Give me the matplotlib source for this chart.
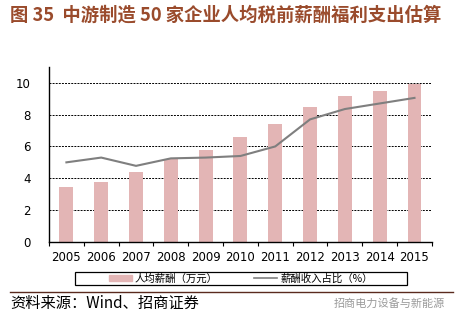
import numpy as np
import matplotlib
matplotlib.use("Agg")
import matplotlib.pyplot as plt
from matplotlib.patches import Rectangle
from matplotlib.lines import Line2D

plt.rcParams['font.family'] = ['Noto Sans CJK SC', 'DejaVu Sans']

# data
years = ['2005', '2006', '2007', '2008', '2009', '2010',
         '2011', '2012', '2013', '2014', '2015']
salary = [3.45, 3.75, 4.4, 5.2, 5.75, 6.6, 7.4, 8.45, 9.2, 9.5, 9.95]
ratio = [5.0, 5.3, 4.78, 5.25, 5.3, 5.4, 6.0, 7.7, 8.35, 8.7, 9.05]
yticks = [0, 2, 4, 6, 8, 10]

title = '图 35  中游制造 50 家企业人均税前薪酬福利支出估算'
source = '资料来源：Wind、招商证券'
mark = '招商电力设备与新能源'

bar_col = '#E3B5B5'
line_col = '#7F7F7F'

fig = plt.figure(figsize=(4.58, 3.23), dpi=100)
ax = fig.add_axes([0.107, 0.251, 0.836, 0.542])

x = np.arange(len(years))
ax.bar(x, salary, width=0.4, color=bar_col, zorder=2)
ax.plot(x, ratio, color=line_col, lw=1.5, zorder=3)

ax.set_xlim(-0.5, len(years) - 0.5)
ax.set_ylim(0, 11)
ax.set_yticks(yticks)
ax.set_yticklabels([str(v) for v in yticks], family='DejaVu Sans', fontsize=8.5)
ax.set_xticks(x)
ax.set_xticklabels(years, family='DejaVu Sans', fontsize=8.5)
ax.set_xticks(np.arange(len(years) + 1) - 0.5, minor=True)
ax.tick_params(axis='x', which='major', length=0, pad=6.5)
ax.tick_params(axis='x', which='minor', length=3, width=0.8, direction='out')
ax.tick_params(axis='y', length=0, pad=13)

for v in yticks[1:]:
    ax.axhline(v, color='black', lw=0.7, ls=(0, (2, 1.2)), zorder=1)

for s in ['top', 'right']:
    ax.spines[s].set_visible(False)
ax.spines['left'].set_linewidth(1.0)
ax.spines['bottom'].set_linewidth(1.0)

# legend
handles = [Rectangle((0, 0), 1, 1, color=bar_col),
           Line2D([0], [0], color=line_col, lw=1.2)]
fig.legend(handles, ['人均薪酬（万元）', '薪酬收入占比（%）'],
           loc='center', bbox_to_anchor=(0.526, 0.138), ncol=2,
           frameon=False, fontsize=7.5, handlelength=2.2,
           handleheight=0.5, columnspacing=3.5, handletextpad=0.3)
fig.patches.append(Rectangle((0.164, 0.118), 0.725, 0.041,
                             transform=fig.transFigure, fill=False,
                             edgecolor='black', lw=0.9))

fig.text(0.022, 0.953, title, fontsize=13.2, fontweight='bold',
         color='#9A4B2C', va='center', ha='left')

fig.add_artist(Line2D([0.022, 0.99], [0.096, 0.096],
                      transform=fig.transFigure, color='#5A2A1E', lw=1.0))
fig.text(0.022, 0.062, source, fontsize=11, va='center', ha='left')
fig.text(0.972, 0.062, mark, fontsize=8, va='center', ha='right',
         color='#9A9A9A')

fig.savefig('out.png', dpi=100)
